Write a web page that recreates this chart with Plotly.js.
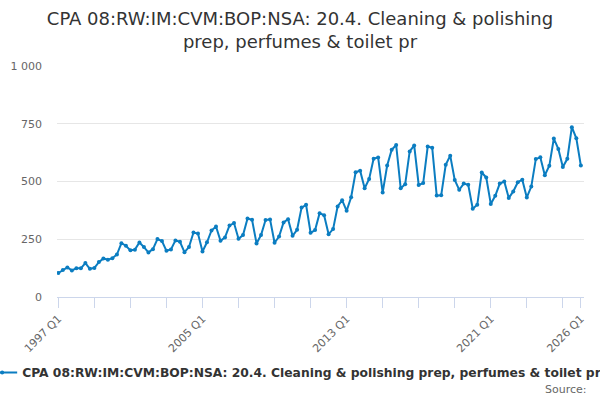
<!DOCTYPE html>
<html>
<head>
<meta charset="utf-8">
<script src="https://cdn.plot.ly/plotly-3.0.1.min.js"></script>
<style>
  html, body { margin: 0; padding: 0; background: #fff; }
  #chart { width: 600px; height: 400px; }
</style>
</head>
<body>
<div id="chart"></div>
<script>
// quarters 1997 Q1 .. 2026 Q1
const firstYear = 1997;
const lastYear = 2026;
const quarters = [];
for (let y = firstYear; y <= lastYear; y++) {
    for (let q = 1; q <= 4; q++) {
        if (y === lastYear && q > 1) break;
        quarters.push(y + ' Q' + q);
    }
}

const values = [
    104, 117, 128, 115, 124, 124, 147, 122, 126, 151, 167, 161,
    168, 184, 233, 222, 202, 205, 236, 216, 193, 207, 251, 242,
    200, 206, 245, 239, 194, 216, 279, 275, 197, 237, 288, 305,
    243, 258, 310, 320, 252, 268, 340, 334, 232, 268, 333, 336,
    235, 262, 323, 337, 265, 291, 387, 399, 278, 290, 363, 354,
    272, 294, 392, 419, 373, 432, 540, 547, 471, 511, 599, 604,
    452, 569, 637, 658, 471, 488, 630, 656, 485, 493, 651, 646,
    439, 441, 572, 612, 507, 464, 491, 486, 382, 399, 539, 517,
    403, 438, 491, 500, 429, 457, 497, 508, 431, 478, 597, 605,
    527, 568, 686, 641, 563, 598, 735, 687, 569
];

const tickLabels = ['1997 Q1', '2005 Q1', '2013 Q1', '2021 Q1', '2026 Q1'];
const yTicks = [0, 250, 500, 750, 1000];

const seriesName = 'CPA 08:RW:IM:CVM:BOP:NSA: 20.4. Cleaning & polishing prep, perfumes & toilet pr';
const lineColor = '#0b7dc1';

const xIndex = quarters.map((q, i) => i);

const trace = {
    x: xIndex,
    y: values,
    text: quarters,
    type: 'scatter',
    mode: 'lines+markers',
    name: seriesName,
    line: { color: lineColor, width: 2 },
    marker: { color: lineColor, size: 4 },
    hovertemplate: '%{text}: %{y}<extra></extra>'
};

const layout = {
    width: 600,
    height: 400,
    margin: { l: 57, r: 16, t: 66, b: 103, autoexpand: false },
    paper_bgcolor: '#fff',
    plot_bgcolor: '#fff',
    font: { family: 'DejaVu Sans', color: '#666', size: 11 },
    separators: '. ',
    title: {
        text: 'CPA 08:RW:IM:CVM:BOP:NSA: 20.4. Cleaning & polishing<br>prep, perfumes & toilet pr',
        font: { family: 'DejaVu Sans', size: 18, color: '#333' },
        x: 0.5,
        xanchor: 'center',
        yref: 'container',
        y: 0.938,
        yanchor: 'top'
    },
    showlegend: true,
    legend: {
        orientation: 'h',
        x: -0.142,
        xanchor: 'left',
        y: -0.327,
        yanchor: 'middle',
        font: { family: 'DejaVu Sans', size: 12.3, color: '#333', weight: 'bold' },
        bgcolor: 'rgba(0,0,0,0)'
    },
    xaxis: {
        automargin: false,
        range: [-0.3, quarters.length - 0.3],
        tickmode: 'array',
        tickvals: tickLabels.map(t => quarters.indexOf(t)),
        ticktext: tickLabels,
        tickangle: -45,
        ticks: 'outside',
        ticklen: 10,
        tickcolor: '#ccd6eb',
        showgrid: false,
        zeroline: false,
        showline: true,
        linecolor: '#ccd6eb',
        linewidth: 1,
        minor: {
            tickmode: 'linear',
            tick0: 0,
            dtick: 8,
            ticks: 'outside',
            ticklen: 10,
            tickcolor: '#ccd6eb',
            showgrid: false
        },
        tickfont: { size: 11, color: '#666' }
    },
    yaxis: {
        automargin: false,
        range: [0, 1000],
        tickmode: 'array',
        tickvals: yTicks,
        separatethousands: true,
        gridcolor: '#e6e6e6',
        gridwidth: 1,
        zeroline: false,
        showline: false,
        ticklabelstandoff: 14,
        tickfont: { size: 11, color: '#666' }
    },
    annotations: [{
        text: 'Source:',
        xref: 'paper',
        yref: 'paper',
        x: 1.01,
        xanchor: 'right',
        y: -0.4,
        yanchor: 'middle',
        showarrow: false,
        font: { family: 'DejaVu Sans', size: 11, color: '#666' }
    }]
};

Plotly.newPlot('chart', [trace], layout, { displayModeBar: false, responsive: false });
</script>
</body>
</html>
